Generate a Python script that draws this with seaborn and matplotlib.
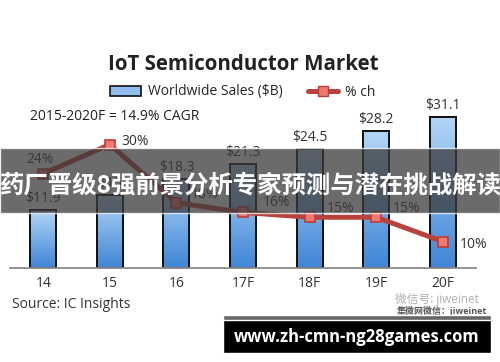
import numpy as np
import pandas as pd
import matplotlib
matplotlib.use("Agg")
import matplotlib.pyplot as plt
import matplotlib.patches as mpatches
from matplotlib.lines import Line2D
from matplotlib.colors import LinearSegmentedColormap
import seaborn as sns

# 数据
years = ['14', '15', '16', '17F', '18F', '19F', '20F']
sales = [11.9, 15.0, 18.3, 21.3, 24.5, 28.2, 31.1]
sales_labels = ['$11.9', '$15', '$18.3', '$21.3', '$24.5', '$28.2', '$31.1']
pct_change = [24, 30, 18, 16, 15, 15, 10]
pct_labels = ['24%', '30%', '18%', '16%', '15%', '15%', '10%']

banner_text = '药厂晋级8强前景分析专家预测与潜在挑战解读'
site_text = 'www.zh-cmn-ng28games.com'

sns.set_style('white')
plt.rcParams['font.family'] = ['Open Sans', 'Noto Sans CJK SC', 'DejaVu Sans']

fig = plt.figure(figsize=(5, 3.62), dpi=100)
H = 362.0
ax = fig.add_axes([10 / 500, (H - 268) / H, 466 / 500, 168 / H])

df = pd.DataFrame({'year': years, 'sales': sales})
sns.barplot(data=df, x='year', y='sales', ax=ax, width=0.39, color='#6aa6e8',
            edgecolor='#111111', linewidth=1.2, saturation=1)

# 渐变填充
cmap = LinearSegmentedColormap.from_list('bl', ['#3f86d6', '#b3d6f6'])
grad = np.linspace(0, 1, 100).reshape(-1, 1)
for p in list(ax.patches):
    x0, w, h = p.get_x(), p.get_width(), p.get_height()
    im = ax.imshow(grad, cmap=cmap, origin='lower', aspect='auto',
                   extent=[x0, x0 + w, 0, h], zorder=p.get_zorder() + 0.1)
    im.set_clip_path(p)
    ax.add_patch(mpatches.Rectangle((x0, 0), w, h, fill=False, edgecolor='#111111',
                                    linewidth=1.4, zorder=p.get_zorder() + 0.2))
ax.set_xlim(-0.5, 6.5)
ax.set_ylim(0, 168 / 4.86)

for i, (v, lab) in enumerate(zip(sales, sales_labels)):
    ax.annotate(lab, (i, v), xytext=(0, 3), textcoords='offset points',
                ha='center', va='bottom', fontsize=10, color='#333333')

# 折线（次坐标轴）
ax2 = ax.twinx()
ax2.set_ylim((290 - 268) / 4.85, (290 - 100) / 4.85)
sns.lineplot(x=np.arange(len(years)), y=pct_change, ax=ax2, color='#b8433d',
             linewidth=3.6, marker='s', markersize=7, markerfacecolor='#ec7a72',
             markeredgecolor='#c23a34', markeredgewidth=1.2, zorder=5)
ax2.set_xlim(-0.5, 6.5)
pct_offsets = [(-2, 10), (18, 2), (20, 6), (24, 7), (22, 6), (22, 6), (22, -2)]
for i, (v, lab) in enumerate(zip(pct_change, pct_labels)):
    ax2.annotate(lab, (i, v), xytext=pct_offsets[i], textcoords='offset points',
                 ha='center', va='center', fontsize=10, color='#333333')

for a in (ax, ax2):
    for s in ['top', 'right', 'left']:
        a.spines[s].set_visible(False)
    a.set_yticks([])
    a.set_ylabel('')
ax2.spines['bottom'].set_visible(False)
ax.spines['bottom'].set_color('#8a8a8a')
ax.spines['bottom'].set_linewidth(1.3)
ax.set_xlabel('')
ax.set_xticks(range(len(years)))
ax.set_xticklabels(years, fontsize=10, color='#333333')
ax.tick_params(axis='x', which='major', length=0, pad=6)
ax.set_xticks(np.arange(-0.5, 7, 1), minor=True)
ax.tick_params(axis='x', which='minor', length=5, width=1.3, color='#8a8a8a', direction='out')

# 标题与图例
fig.text(243 / 500, 1 - 65 / H, 'IoT Semiconductor Market', ha='center', va='center',
         fontsize=14.8, fontweight='bold', color='#222222')
handles = [mpatches.Patch(facecolor='#8fbdee', edgecolor='#111111', linewidth=1.2),
           Line2D([0], [0], color='#b8433d', linewidth=3.6, marker='s', markersize=7,
                  markerfacecolor='#ec7a72', markeredgecolor='#c23a34')]
fig.legend(handles, ['Worldwide Sales ($B)', '% ch'], loc='center', ncol=2,
           bbox_to_anchor=(243 / 500, 1 - 92 / H), frameon=False, fontsize=10,
           handlelength=2.2, columnspacing=1.8, handletextpad=0.5)
fig.text(30 / 500, 1 - 117 / H, '2015-2020F = 14.9% CAGR', ha='left', va='center',
         fontsize=10, color='#222222')
fig.text(12 / 500, 1 - 304 / H, 'Source: IC Insights', ha='left', va='center',
         fontsize=10, color='#333333')

# 水印
fig.text(395 / 500, 1 - 300 / H, '微信号: jiweinet', ha='left', va='center',
         fontsize=8.5, color='#b0b0b0')
fig.text(397 / 500, 1 - 311 / H, '集微网微信：jiweinet', ha='left', va='center',
         fontsize=6.5, color='#555555', fontweight='bold')

# 横幅
fig.patches.append(mpatches.Rectangle((0, 1 - 213 / H), 1, 65 / H, transform=fig.transFigure,
                                      facecolor='#3a3a3a', alpha=0.75, zorder=10))
fig.text(0.5, 1 - 186 / H, banner_text, ha='center', va='center', fontsize=17.6,
         fontweight='bold', color='white', zorder=11,
         family=['Noto Sans CJK SC', 'DejaVu Sans'])

fig.patches.append(mpatches.Rectangle((223 / 500, 1 - 353 / H), 268 / 500, 38 / H,
                                      transform=fig.transFigure, facecolor='black', zorder=10))
fig.patches.append(mpatches.Rectangle((223 / 500, 1 - 320 / H), 268 / 500, 5 / H,
                                      transform=fig.transFigure, facecolor='#666666', zorder=10))
fig.text(357 / 500, 1 - 337 / H, site_text, ha='center', va='center', fontsize=12,
         fontweight='bold', color='white', zorder=11)

fig.savefig('out.png', dpi=100)
